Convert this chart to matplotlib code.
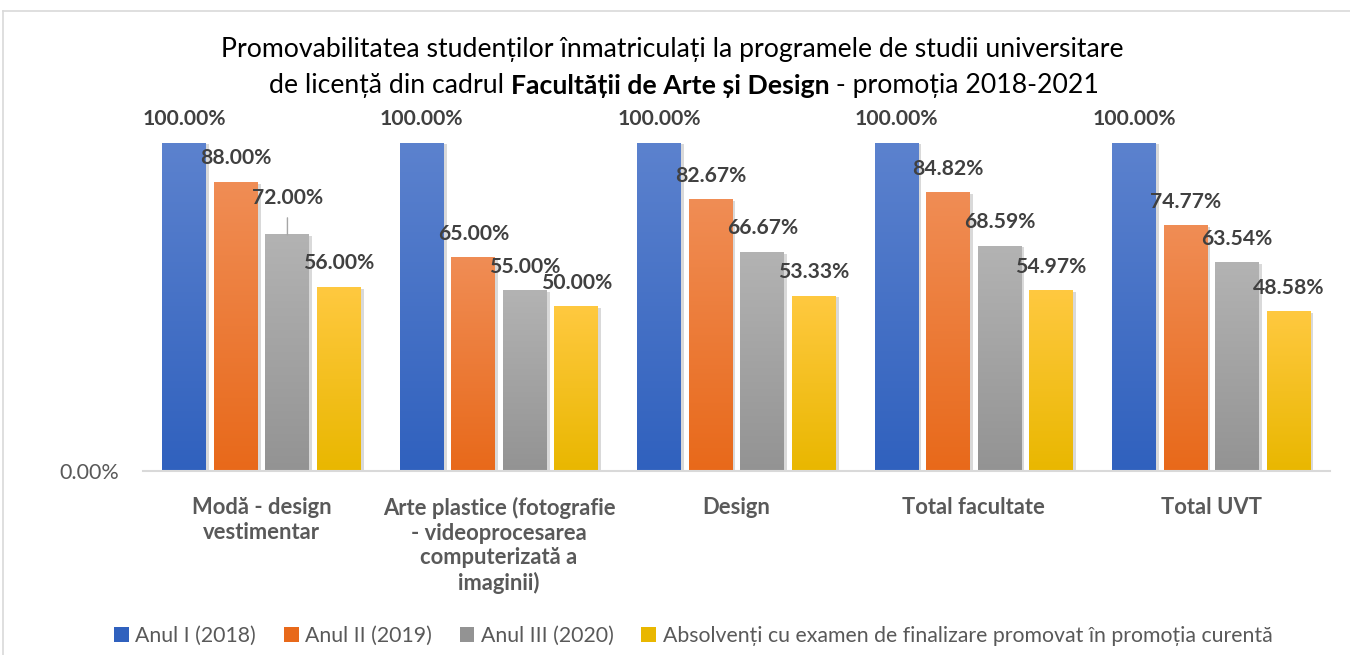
import numpy as np
import matplotlib.pyplot as plt
from matplotlib import patheffects as pe
from matplotlib.colors import LinearSegmentedColormap
from matplotlib.lines import Line2D
from matplotlib.patches import Patch

plt.rcParams['font.family'] = ['Lato', 'DejaVu Sans']

categories = ['Modă - design\nvestimentar',
              'Arte plastice (fotografie\n- videoprocesarea\ncomputerizată a\nimaginii)',
              'Design', 'Total facultate', 'Total UVT']
series_names = ['Anul I (2018)', 'Anul II (2019)', 'Anul III (2020)',
                'Absolvenți cu examen de finalizare promovat în promoția curentă']
anul1 = [100.00, 100.00, 100.00, 100.00, 100.00]
anul2 = [88.00, 65.00, 82.67, 84.82, 74.77]
anul3 = [72.00, 55.00, 66.67, 68.59, 63.54]
absolventi = [56.00, 50.00, 53.33, 54.97, 48.58]
values = [anul1, anul2, anul3, absolventi]

# (top colour, bottom colour) for each series gradient
grads = [('#5C82CE', '#3061BE'), ('#F08D55', '#E8691A'),
         ('#B3B3B3', '#939393'), ('#FFC940', '#E9B700')]
txt = '#404040'
axis_txt = '#595959'

fig = plt.figure(figsize=(13.5, 6.55), dpi=100)
ax = fig.add_axes([0.1059, 0.2809, 0.8793, 0.5008])

# outer chart frame (top and left edges visible)
fig.add_artist(Line2D([3/1350, 3/1350], [0, 1 - 11/655], transform=fig.transFigure,
                      color='#D9D9D9', lw=1.2))
fig.add_artist(Line2D([3/1350, 1], [1 - 11/655, 1 - 11/655], transform=fig.transFigure,
                      color='#D9D9D9', lw=1.2))

x = np.arange(len(categories))
width = 0.185
step = 0.217
ramp = np.linspace(0, 1, 256).reshape(-1, 1)

for i, vals in enumerate(values):
    bars = ax.bar(x + (i - 1.5) * step, vals, width, color=grads[i][1], zorder=2,
                  path_effects=[pe.SimplePatchShadow(offset=(2, -1), shadow_rgbFace='#000000',
                                                     alpha=0.15), pe.Normal()])
    cmap = LinearSegmentedColormap.from_list(f'g{i}', [grads[i][0], grads[i][1]])
    for b, v in zip(bars, vals):
        x0 = b.get_x()
        ax.imshow(ramp, cmap=cmap, extent=[x0, x0 + b.get_width(), 0, v],
                  aspect='auto', origin='upper', zorder=3, interpolation='bilinear')
        lift = 24
        lead = False
        if i == 2 and v == anul3[0]:
            # this label is pushed up and tied back to its bar
            lift = 37
            lead = True
        ax.annotate(f'{v:.2f}%', (x0 + b.get_width() / 2, v), xytext=(0, lift),
                    textcoords='offset pixels', ha='center', va='center',
                    fontsize=15.2, fontweight='bold', color=txt, zorder=5)
        if lead:
            ax.annotate('', (x0 + b.get_width() / 2, v), xytext=(0, lift - 20),
                        textcoords='offset pixels',
                        arrowprops=dict(arrowstyle='-', color='#A6A6A6', lw=1,
                                        shrinkA=0, shrinkB=0))

ax.set_xlim(-0.5, len(categories) - 0.5)
ax.set_ylim(0, 100)
for s in ['top', 'right', 'left']:
    ax.spines[s].set_visible(False)
ax.spines['bottom'].set_color('#D9D9D9')
ax.spines['bottom'].set_linewidth(1.5)
ax.spines['bottom'].set_zorder(4)
ax.set_yticks([0])
ax.set_yticklabels(['0.00%'], fontsize=15.5, color=axis_txt)
ax.set_xticks(x)
ax.set_xticklabels(categories, fontsize=15.8, fontweight='bold', color=axis_txt,
                   linespacing=1.2, va='top')
ax.tick_params(length=0)
ax.tick_params(axis='x', pad=19)
ax.tick_params(axis='y', pad=17)

# title: first line plain, second line with a bold middle part
fig.text(0.4978, 1 - 49/655, 'Promovabilitatea studenților înmatriculați la programele de studii universitare',
         ha='center', va='center', fontsize=19.2, color='#000000')
parts = [('de licență din cadrul ', 'normal'), ('Facultății de Arte și Design', 'bold'),
         (' - promoția 2018-2021', 'normal')]
fig.canvas.draw()
r = fig.canvas.get_renderer()
objs = [fig.text(0, 1 - 86/655, s, ha='left', va='center', fontsize=19.2,
                 fontweight=w, color='#000000') for s, w in parts]
widths = [o.get_window_extent(r).width for o in objs]
total = sum(widths)
start = 684 - total / 2
for o, w in zip(objs, widths):
    o.set_x(start / 1350)
    start += w

handles = [Patch(facecolor=grads[i][1], edgecolor='none') for i in range(4)]
fig.legend(handles, series_names, loc='center', bbox_to_anchor=(0.5135, 1 - 636/655),
           ncol=4, frameon=False, fontsize=15.3, labelcolor=axis_txt,
           handlelength=0.7, handleheight=0.7, handletextpad=0.3, columnspacing=1.3)

fig.savefig('out.png', dpi=100)
